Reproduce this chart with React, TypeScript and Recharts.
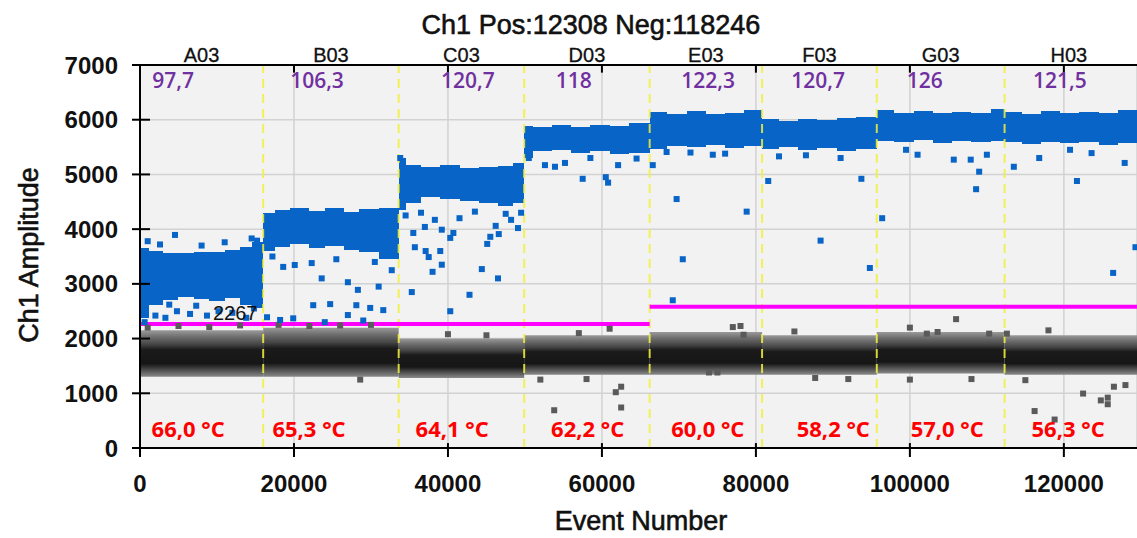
import React from "react";
import {
  ComposedChart,
  XAxis,
  YAxis,
  CartesianGrid,
  Scatter,
  ReferenceArea,
  ReferenceLine,
} from "recharts";

// ---- wells ----
const WELLS = ["A03", "B03", "C03", "D03", "E03", "F03", "G03", "H03"];
const WELL_STARTS = [0, 16000, 33600, 49900, 66200, 80800, 95700, 112300];
const WELL_END = 129000;
const X_MAX = 129500;

// copies/µL per well and its x anchor
const CONC_LABELS = ["97,7", "106,3", "120,7", "118", "122,3", "120,7", "126", "121,5"];
const CONC_X = [1600, 19500, 39100, 54000, 70300, 84600, 99600, 116000];
const CONC_Y = 6580;

// annealing temperature per well
const TEMP_LABELS = ["66,0 °C", "65,3 °C", "64,1 °C", "62,2 °C", "60,0 °C", "58,2 °C", "57,0 °C", "56,3 °C"];
const TEMP_X = [1500, 17200, 35800, 53400, 69000, 85300, 100100, 115800];
const TEMP_Y = 200;

// thresholds
const THRESHOLDS = [
  { x1: 0, x2: 66200, y: 2267 },
  { x1: 66200, x2: X_MAX, y: 2580 },
];
const THRESHOLD_LABEL = { x: 9480, y: 2340, text: "2267" };

// axis ticks
const X_TICKS = [0, 20000, 40000, 60000, 80000, 100000, 120000];
const Y_TICKS = [0, 1000, 2000, 3000, 4000, 5000, 6000, 7000];

// positive droplet cloud: [xStart, xEnd, low, high]
const POS_BANDS = [
  // A03
  [0, 1200, 2380, 3660], [1200, 3000, 2620, 3600], [3000, 5000, 2700, 3570], [5000, 7000, 2760, 3560],
  [7000, 9000, 2720, 3590], [9000, 11000, 2680, 3580], [11000, 13000, 2740, 3620], [13000, 14500, 2620, 3680],
  [14500, 16000, 2560, 3760],
  // B03
  [16000, 17500, 3600, 4300], [17500, 19500, 3680, 4350], [19500, 22000, 3720, 4380], [22000, 24000, 3660, 4340],
  [24000, 26500, 3700, 4380], [26500, 28500, 3620, 4320], [28500, 31000, 3580, 4360], [31000, 33600, 3450, 4380],
  // C03
  [33600, 34600, 4350, 5300], [34600, 36500, 4480, 5180], [36500, 39000, 4580, 5130], [39000, 41500, 4550, 5170],
  [41500, 44000, 4520, 5110], [44000, 46500, 4480, 5130], [46500, 48500, 4420, 5150], [48500, 49900, 4480, 5200],
  // D03
  [49900, 51000, 5300, 5880], [51000, 53500, 5420, 5860], [53500, 56000, 5440, 5900], [56000, 58500, 5400, 5870],
  [58500, 61000, 5430, 5910], [61000, 63500, 5380, 5880], [63500, 66200, 5400, 5940],
  // E03
  [66200, 68500, 5460, 6150], [68500, 71000, 5520, 6100], [71000, 73500, 5500, 6160], [73500, 76000, 5530, 6110],
  [76000, 78500, 5490, 6130], [78500, 80800, 5520, 6180],
  // F03
  [80800, 83000, 5460, 6020], [83000, 85500, 5500, 5980], [85500, 88000, 5440, 6010], [88000, 90500, 5480, 5990],
  [90500, 93000, 5430, 6030], [93000, 95700, 5470, 6050],
  // G03
  [95700, 98000, 5620, 6170], [98000, 100500, 5600, 6130], [100500, 103000, 5630, 6160], [103000, 105500, 5580, 6120],
  [105500, 108000, 5610, 6150], [108000, 110500, 5590, 6130], [110500, 112300, 5620, 6190],
  // H03
  [112300, 114500, 5590, 6150], [114500, 117000, 5560, 6110], [117000, 119500, 5600, 6160], [119500, 122000, 5570, 6120],
  [122000, 124500, 5600, 6150], [124500, 127000, 5540, 6130], [127000, X_MAX, 5580, 6170],
];

// negative droplet cloud per well: [xStart, xEnd, low, high]
const NEG_BANDS = [
  [0, 16000, 1300, 2150], [16000, 33600, 1300, 2200], [33600, 49900, 1280, 2000],
  [49900, 66200, 1340, 2060], [66200, 80800, 1340, 2120], [80800, 95700, 1340, 2060],
  [95700, 112300, 1360, 2120], [112300, X_MAX, 1340, 2060],
];

// scattered positive droplets [event, amplitude]
const POS_SCATTER = [
  [4545, 3894], [1000, 3780], [2600, 3720], [8000, 3700], [11000, 3760], [14500, 3830], [15200, 3790],
  [600, 2300], [2000, 2420], [3300, 2380], [4800, 2500], [6500, 2450], [8700, 2420], [10200, 2500],
  [12000, 2470], [13800, 2380], [14800, 2550], [7300, 2600], [3800, 2620],
  [18600, 3310], [20100, 3345], [22300, 3380], [23600, 3100], [27000, 3030], [28300, 2890],
  [22500, 2610], [24700, 2630], [28100, 2610], [29900, 2560], [31600, 2520], [32700, 3250],
  [16500, 2390], [18200, 2340], [19900, 2370], [27000, 2430], [30500, 3400], [25500, 3450],
  [17200, 3500], [31000, 2950], [24000, 2300], [29000, 2330],
  [33800, 5300], [35500, 3930], [37000, 4040], [35700, 3670], [37100, 3600], [37500, 3490],
  [39200, 3350], [38000, 3220], [39000, 3600], [35300, 2850], [40300, 2500], [42800, 2800],
  [44400, 3270], [46500, 3100], [45100, 3730], [45500, 3860], [46600, 3910], [46200, 4060],
  [48200, 4170], [49100, 4020], [40300, 3840], [40700, 3930], [38300, 4170], [39200, 3990],
  [34500, 4250], [36500, 4300], [41500, 4200], [43500, 4320], [47500, 4280], [49500, 4300],
  [50500, 5300], [52600, 5170], [53900, 5140], [57500, 4920], [60500, 4950], [60800, 4850],
  [62100, 5170], [55200, 5210], [58500, 5300], [64500, 5290],
  [69200, 2700], [70500, 3450], [69700, 4550], [78800, 4320], [66600, 5170], [68400, 5410],
  [74400, 5360], [71500, 5400], [76000, 5380],
  [81600, 4880], [93700, 4920], [88400, 3790], [94800, 3290], [83000, 5330], [86500, 5350], [91000, 5300],
  [96400, 4200], [99500, 5450], [101000, 5360], [105700, 5270], [107900, 5270], [109000, 5050],
  [108600, 4730], [110000, 5360],
  [113500, 5140], [116800, 5300], [121700, 4880], [127900, 5210], [126400, 3200], [129300, 3670],
  [120800, 5450], [123600, 5390],
];

// scattered negative droplets [event, amplitude]
const NEG_SCATTER = [
  [61000, 2180], [62500, 1120], [62500, 740], [61800, 1020], [77000, 2210], [78000, 2230], [78400, 2070],
  [106000, 2355], [102200, 2090], [103600, 2120], [110300, 2090], [112600, 2090],
  [122500, 995], [124800, 870], [125700, 920], [125700, 800], [116200, 675], [118800, 520],
  [126500, 1120], [87700, 1280], [73900, 1380], [75000, 1380], [53800, 690], [28600, 1250],
  [1000, 2200], [5000, 2230], [9000, 2210], [13000, 2240], [18000, 2250], [22000, 2230],
  [26000, 2240], [30000, 2250], [40000, 2080], [45000, 2060], [57000, 2100], [85000, 2130],
  [100000, 2200], [118000, 2150], [52000, 1250], [58000, 1260], [92000, 1260], [100000, 1250],
  [108000, 1260], [115000, 1240], [128000, 1150],
];

const FONT = "'Liberation Sans', Arial, sans-serif";
const BLUE = "#0864c6";
const GRAY = "#5a5a5a";

const toPts = (arr: number[][]) => arr.map(([x, y]) => ({ x, y }));

const wellLabelPts = WELLS.map((w, i) => {
  const end = i + 1 < WELL_STARTS.length ? WELL_STARTS[i + 1] : WELL_END;
  return { x: (WELL_STARTS[i] + end) / 2, y: 7000, label: w };
});
const concPts = CONC_LABELS.map((l, i) => ({ x: CONC_X[i], y: CONC_Y, label: l }));
const tempPts = TEMP_LABELS.map((l, i) => ({ x: TEMP_X[i], y: TEMP_Y, label: l }));

const square = (color: string) => (p: any) =>
  <rect x={p.cx - 3} y={p.cy - 3} width={6} height={6} fill={color} />;

export default function App() {
  return (
    <div style={{ position: "absolute", left: 0, top: 0, width: 1137, height: 538, background: "#fff" }}>
      <svg width={0} height={0} style={{ position: "absolute" }}>
        <defs>
          <linearGradient id="negCloud" x1="0" y1="0" x2="0" y2="1">
            <stop offset="0%" stopColor="#9a9a9a" />
            <stop offset="14%" stopColor="#6e6e6e" />
            <stop offset="30%" stopColor="#454545" />
            <stop offset="42%" stopColor="#1a1a1a" />
            <stop offset="72%" stopColor="#161616" />
            <stop offset="86%" stopColor="#505050" />
            <stop offset="100%" stopColor="#8a8a8a" />
          </linearGradient>
        </defs>
      </svg>
      <ComposedChart width={1137} height={538} margin={{ top: 65, right: 0, bottom: 40, left: 0 }}>
        <CartesianGrid stroke="#d2d2d2" strokeWidth={1.5} fill="#f2f2f2" />
        <XAxis
          type="number"
          dataKey="x"
          domain={[0, X_MAX]}
          ticks={X_TICKS}
          height={50}
          tickSize={9}
          tickMargin={18}
          axisLine={{ stroke: "#000", strokeWidth: 2 }}
          tickLine={{ stroke: "#000", strokeWidth: 2 }}
          tick={{ fill: "#111", fontSize: 24, fontWeight: 700, fontFamily: FONT }}
        />
        <YAxis
          type="number"
          dataKey="y"
          domain={[0, 7000]}
          ticks={Y_TICKS}
          width={140}
          tickSize={8}
          tickMargin={14}
          axisLine={{ stroke: "#000", strokeWidth: 2 }}
          tickLine={{ stroke: "#000", strokeWidth: 2 }}
          tick={{ fill: "#111", fontSize: 24, fontWeight: 700, fontFamily: FONT }}
        />

        {NEG_BANDS.map(([x1, x2, y1, y2], i) => (
          <ReferenceArea key={"nb" + i} x1={x1} x2={x2} y1={y1} y2={y2} fill="url(#negCloud)" fillOpacity={1} stroke="none" />
        ))}
        {POS_BANDS.map(([x1, x2, y1, y2], i) => (
          <ReferenceArea key={"pb" + i} x1={x1} x2={x2} y1={y1} y2={y2} fill={BLUE} fillOpacity={1} stroke="none" shapeRendering="crispEdges" />
        ))}

        {/* well boundaries */}
        {WELL_STARTS.slice(1).map((x) => (
          <ReferenceLine key={"wb" + x} x={x} stroke="#f2f03c" strokeOpacity={0.85} strokeWidth={2} strokeDasharray="9 6" />
        ))}

        {/* thresholds */}
        {THRESHOLDS.map((t, i) => (
          <ReferenceLine key={"th" + i} segment={[{ x: t.x1, y: t.y }, { x: t.x2, y: t.y }]} stroke="#ff00ff" strokeWidth={4} />
        ))}

        {/* frame: top edge and inner tick marks */}
        <ReferenceLine y={7000} stroke="#000" strokeWidth={2} />
        {Y_TICKS.slice(1).map((t) => (
          <ReferenceLine key={"yt" + t} segment={[{ x: 0, y: t }, { x: 1300, y: t }]} stroke="#000" strokeWidth={2} />
        ))}
        {X_TICKS.slice(1).map((t) => (
          <ReferenceLine key={"xb" + t} segment={[{ x: t, y: 0 }, { x: t, y: 90 }]} stroke="#000" strokeWidth={2} />
        ))}
        {X_TICKS.slice(1).map((t) => (
          <ReferenceLine key={"xt" + t} segment={[{ x: t, y: 7000 }, { x: t, y: 6860 }]} stroke="#000" strokeWidth={2} />
        ))}

        <Scatter data={toPts(NEG_SCATTER)} isAnimationActive={false} shape={square(GRAY)} />
        <Scatter data={toPts(POS_SCATTER)} isAnimationActive={false} shape={square(BLUE)} />

        <Scatter
          data={[THRESHOLD_LABEL]}
          isAnimationActive={false}
          shape={(p: any) => (
            <text x={p.cx} y={p.cy} fontSize={20} fontFamily={FONT} fill="#111">{p.payload.text}</text>
          )}
        />
        <Scatter
          data={concPts}
          isAnimationActive={false}
          shape={(p: any) => (
            <text x={p.cx} y={p.cy} fontSize={21} fontWeight={600} fontFamily="'Open Sans', sans-serif" fill="#7030a0">{p.payload.label}</text>
          )}
        />
        <Scatter
          data={tempPts}
          isAnimationActive={false}
          shape={(p: any) => (
            <text x={p.cx} y={p.cy} fontSize={22} fontWeight={700} fontFamily="'Open Sans', sans-serif" fill="#ff0000">{p.payload.label}</text>
          )}
        />
        <Scatter
          data={wellLabelPts}
          isAnimationActive={false}
          shape={(p: any) => (
            <text x={p.cx} y={p.cy - 3} textAnchor="middle" fontSize={20} fontFamily={FONT} fill="#111" stroke="#111" strokeWidth={0.3}>{p.payload.label}</text>
          )}
        />
      </ComposedChart>

      <svg width={1137} height={538} style={{ position: "absolute", left: 0, top: 0, pointerEvents: "none" }}>
        <text x={591} y={34} textAnchor="middle" fontSize={27} fontFamily={FONT} fill="#111" stroke="#111" strokeWidth={0.6}>
          Ch1 Pos:12308 Neg:118246
        </text>
        <text x={38} y={255} textAnchor="middle" fontSize={27} fontFamily={FONT} fill="#111" stroke="#111" strokeWidth={0.6} transform="rotate(-90 38 255)">
          Ch1 Amplitude
        </text>
        <text x={641} y={530} textAnchor="middle" fontSize={27} fontFamily={FONT} fill="#111" stroke="#111" strokeWidth={0.6}>
          Event Number
        </text>
      </svg>
    </div>
  );
}
